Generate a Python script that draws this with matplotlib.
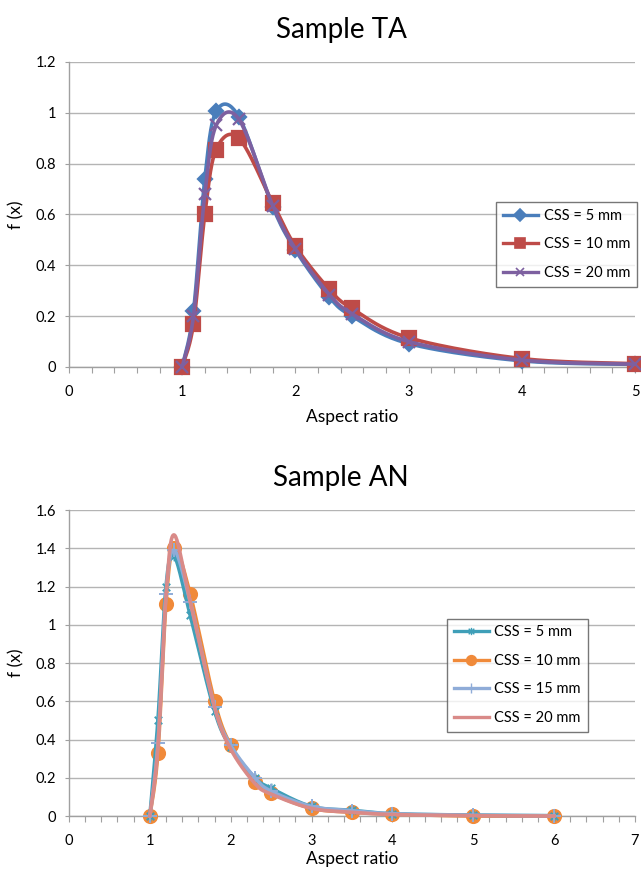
import matplotlib
matplotlib.use('agg')
import matplotlib.pyplot as plt
from matplotlib.lines import Line2D
from matplotlib.path import Path
from matplotlib.ticker import MultipleLocator
import numpy as np

plt.rcParams['font.family'] = ['Lato', 'DejaVu Sans']

# Sample TA data
ta_x = [1, 1.1, 1.2, 1.3, 1.5, 1.8, 2, 2.3, 2.5, 3, 4, 5]
ta_css5 = [0, 0.22, 0.74, 1.005, 0.985, 0.63, 0.46, 0.275, 0.2, 0.092, 0.024, 0.01]
ta_css10 = [0, 0.17, 0.60, 0.855, 0.90, 0.645, 0.475, 0.305, 0.23, 0.115, 0.033, 0.013]
ta_css20 = [0, 0.20, 0.68, 0.95, 0.975, 0.635, 0.465, 0.285, 0.21, 0.10, 0.027, 0.011]
ta_labels = ['CSS = 5 mm', 'CSS = 10 mm', 'CSS = 20 mm']

# Sample AN data
an_x = [1, 1.1, 1.2, 1.3, 1.5, 1.8, 2, 2.3, 2.5, 3, 3.5, 4, 5, 6]
an_css5 = [0, 0.50, 1.20, 1.36, 1.05, 0.55, 0.36, 0.20, 0.145, 0.05, 0.03, 0.012, 0.005, 0.002]
an_css10 = [0, 0.33, 1.11, 1.40, 1.16, 0.60, 0.37, 0.18, 0.12, 0.04, 0.02, 0.01, 0.0, 0.0]
an_css15 = [0, 0.38, 1.16, 1.39, 1.12, 0.57, 0.37, 0.20, 0.13, 0.05, 0.028, 0.012, 0.004, 0.001]
an_css20 = [0, 0.36, 1.15, 1.47, 1.12, 0.57, 0.35, 0.17, 0.115, 0.04, 0.02, 0.008, 0.002, 0.0]
an_labels = ['CSS = 5 mm', 'CSS = 10 mm', 'CSS = 15 mm', 'CSS = 20 mm']

# star marker like excel (x with a vertical bar)
star = Path([(-1, -1), (1, 1), (-1, 1), (1, -1), (0, -1.3), (0, 1.3)],
            [Path.MOVETO, Path.LINETO, Path.MOVETO, Path.LINETO, Path.MOVETO, Path.LINETO])


def smooth(x, y, n=24):
    # excel-ish smoothed line: bezier through the points
    pts = np.column_stack([x, y]).astype(float)
    p = np.vstack([pts[0], pts, pts[-1]])
    out = []
    t = np.linspace(0, 1, n)[:, None]
    for i in range(1, len(p) - 2):
        p0, p1, p2, p3 = p[i - 1], p[i], p[i + 1], p[i + 2]
        c1 = p1 + (p2 - p0) / 6
        c2 = p2 - (p3 - p1) / 6
        b = (1 - t)**3 * p1 + 3 * (1 - t)**2 * t * c1 + 3 * (1 - t) * t**2 * c2 + t**3 * p2
        out.append(b)
    out = np.vstack(out)
    return out[:, 0], out[:, 1]


def style_axes(ax, xmax, ymax, ystep, xlabpad):
    ax.set_xlim(0, xmax)
    ax.set_ylim(0, ymax)
    ax.xaxis.set_major_locator(MultipleLocator(1))
    ax.xaxis.set_minor_locator(MultipleLocator(0.2))
    ax.yaxis.set_major_locator(MultipleLocator(ystep))
    ax.grid(axis='y', color='#b4b4b4', lw=1.0)
    ax.set_axisbelow(True)
    for s in ['top', 'right']:
        ax.spines[s].set_visible(False)
    for s in ['left', 'bottom']:
        ax.spines[s].set_color('#a0a0a0')
        ax.spines[s].set_linewidth(1.0)
    ax.tick_params(axis='x', which='both', direction='out', length=4, width=0.8,
                   color='#a0a0a0', labelsize=10.5, pad=9)
    ax.tick_params(axis='y', which='both', direction='out', length=3, width=0.8,
                   color='#a0a0a0', labelsize=10.5, pad=6)
    ax.set_yticklabels([('%g' % v) for v in ax.get_yticks()])
    ax.set_xlabel('Aspect ratio', fontsize=12.5, labelpad=xlabpad)
    ax.set_ylabel('f (x)', fontsize=12.5, labelpad=8)


fig = plt.figure(figsize=(6.41, 8.71), dpi=100)

# ---- Sample TA ----
ax1 = fig.add_axes([0.1076, 0.5787, 0.883, 0.3502])
ta_series = [ta_css5, ta_css10, ta_css20]
ta_colors = ['#4a7ebb', '#be4b48', '#7d60a0']
ta_markers = ['D', 's', 'x']
ta_msize = [7.5, 9.5, 8]
handles = []
for k, (ys, c, m, ms, lab) in enumerate(zip(ta_series, ta_colors, ta_markers, ta_msize, ta_labels)):
    sx, sy = smooth(ta_x, ys)
    ax1.plot(sx, sy, color=c, lw=2.6, zorder=3 + k, clip_on=False)
    ax1.plot(ta_x, ys, ls='none', marker=m, ms=ms, color=c, mec=c, mew=1.6,
             zorder=3 + k, clip_on=False)
    handles.append(Line2D([], [], color=c, lw=2.4, marker=m, ms=ms * 0.75, mec=c, mew=1.2, label=lab))
style_axes(ax1, 5, 1.2, 0.2, 7)
ax1.legend(handles=handles, loc='upper left', bbox_to_anchor=(0.755, 0.54),
           fontsize=10.5, frameon=True, fancybox=False, edgecolor='#555555',
           handlelength=2.4, handletextpad=0.4, labelspacing=1.0, borderpad=0.45,
           borderaxespad=0)
fig.text(0.532, 0.966, 'Sample TA', ha='center', va='center', fontsize=20)

# ---- Sample AN ----
ax2 = fig.add_axes([0.1076, 0.0631, 0.883, 0.3513])
an_series = [an_css5, an_css10, an_css15, an_css20]
an_colors = ['#3f9fb8', '#f08a3a', '#8facd8', '#d98a88']
an_markers = [star, 'o', '+', None]
an_msize = [7, 9.5, 10, 0]
handles = []
order_z = [4, 3, 5, 6]
for k, (ys, c, m, ms, lab) in enumerate(zip(an_series, an_colors, an_markers, an_msize, an_labels)):
    sx, sy = smooth(an_x, ys)
    ax2.plot(sx, sy, color=c, lw=2.6, zorder=order_z[k], clip_on=False)
    if m is not None:
        ax2.plot(an_x, ys, ls='none', marker=m, ms=ms, color=c, mec=c, mew=1.4,
                 zorder=order_z[k], clip_on=False)
    handles.append(Line2D([], [], color=c, lw=2.4, marker=m, ms=ms * 0.75, mec=c, mew=1.0, label=lab))
style_axes(ax2, 7, 1.6, 0.2, 2)
ax2.legend(handles=handles, loc='upper left', bbox_to_anchor=(0.668, 0.645),
           fontsize=10.5, frameon=True, fancybox=False, edgecolor='#555555',
           handlelength=2.4, handletextpad=0.4, labelspacing=1.0, borderpad=0.45,
           borderaxespad=0)
fig.text(0.532, 0.451, 'Sample AN', ha='center', va='center', fontsize=20)

fig.savefig('out.png', dpi=100)
